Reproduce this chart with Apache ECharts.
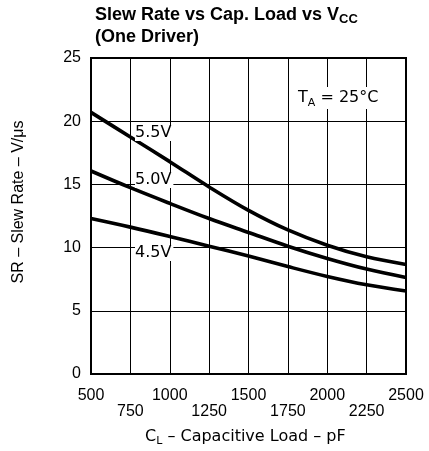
<!DOCTYPE html>
<html><head><meta charset="utf-8">
<script src="https://cdn.jsdelivr.net/npm/echarts@6/dist/echarts.min.js"></script>
<style>html,body{margin:0;padding:0;background:#fff}#c{width:429px;height:451px}</style>
</head><body><div id="c"></div>
<script>
const capLoad = [500, 750, 1000, 1250, 1500, 1750, 2000, 2250, 2500];
const sr55 = [20.7, 18.75, 16.8, 14.8, 12.95, 11.4, 10.19, 9.27, 8.66];
const sr50 = [16.06, 14.74, 13.5, 12.3, 11.2, 10.11, 9.14, 8.3, 7.64];
const sr45 = [12.3, 11.62, 10.88, 10.11, 9.33, 8.5, 7.72, 7.06, 6.56];
const seriesNames = ['5.5V', '5.0V', '4.5V'];
const yTicks = [0, 5, 10, 15, 20, 25];

const font = 'Liberation Sans, Arial, sans-serif';
const wide = 'DejaVu Sans, sans-serif';
const pair = (arr) => capLoad.map((x, i) => [x, arr[i]]);
const chart = echarts.init(document.getElementById('c'));
const lineStyle = {color: '#000', width: 3.6};
chart.setOption({
  animation: false,
  backgroundColor: '#fff',
  grid: {left: 91, right: 23, top: 58, bottom: 77, show: true, borderColor: '#000', borderWidth: 2},
  xAxis: {
    type: 'value', min: 500, max: 2500, interval: 250,
    axisLine: {show: true, lineStyle: {color: '#000', width: 2}},
    axisTick: {show: false},
    splitLine: {show: true, lineStyle: {color: '#000', width: 1}},
    axisLabel: {
      color: '#000', fontFamily: font, fontSize: 16, margin: 14, lineHeight: 16,
      showMinLabel: true, showMaxLabel: true,
      formatter: (v) => { const i = capLoad.indexOf(v); return i % 2 === 1 ? '\n' + v : v + '\n'; }
    }
  },
  yAxis: {
    type: 'value', min: yTicks[0], max: yTicks[yTicks.length - 1], interval: 5,
    axisLine: {show: true, lineStyle: {color: '#000', width: 2}},
    axisTick: {show: false},
    splitLine: {show: true, lineStyle: {color: '#000', width: 1}},
    axisLabel: {color: '#000', fontFamily: font, fontSize: 16, margin: 10}
  },
  series: [
    {name: seriesNames[0], type: 'line', data: pair(sr55), smooth: 0.35, symbol: 'none', lineStyle},
    {name: seriesNames[1], type: 'line', data: pair(sr50), smooth: 0.35, symbol: 'none', lineStyle},
    {name: seriesNames[2], type: 'line', data: pair(sr45), smooth: 0.35, symbol: 'none', lineStyle}
  ],
  graphic: [
    {type: 'text', left: 95, top: 6, style: {
      text: '{b|Slew Rate vs Cap. Load vs V}{s|CC}\n{b|(One Driver)}',
      rich: {
        b: {fontFamily: font, fontWeight: 'bold', fontSize: 18, fill: '#000', lineHeight: 22},
        s: {fontFamily: font, fontWeight: 'bold', fontSize: 13, fill: '#000', verticalAlign: 'bottom', padding: [7, 0, 0, 0], lineHeight: 22}
      }}},
    {type: 'text', left: 135, top: 125, z: 10, style: {text: seriesNames[0], fontFamily: wide, fontSize: 16, fill: '#000', backgroundColor: '#fff', padding: [0, 2, 0, 0]}},
    {type: 'text', left: 135, top: 172, z: 10, style: {text: seriesNames[1], fontFamily: wide, fontSize: 16, fill: '#000', backgroundColor: '#fff', padding: [0, 2, 0, 0]}},
    {type: 'text', left: 135, top: 245, z: 10, style: {text: seriesNames[2], fontFamily: wide, fontSize: 16, fill: '#000', backgroundColor: '#fff', padding: [0, 2, 0, 0]}},
    {type: 'text', left: 296, top: 87, z: 10, style: {
      text: '{n|T}{s|A}{n| = 25°C}', backgroundColor: '#fff', padding: [0, 2, 0, 2],
      rich: {
        n: {fontFamily: wide, fontSize: 16, fill: '#000', lineHeight: 22},
        s: {fontFamily: wide, fontSize: 11, fill: '#000', verticalAlign: 'bottom', lineHeight: 22, padding: [8, 0, 0, 0]}
      }}},
    {type: 'text', left: 145, top: 428, style: {
      text: '{n|C}{s|L}{n| – Capacitive Load – pF}',
      rich: {
        n: {fontFamily: wide, fontSize: 16, fill: '#000', lineHeight: 20},
        s: {fontFamily: wide, fontSize: 11, fill: '#000', verticalAlign: 'bottom', lineHeight: 20, padding: [8, 0, 0, 0]}
      }}},
    {type: 'text', x: 19, y: 202, rotation: Math.PI / 2, style: {
      text: 'SR – Slew Rate – V/μs', fontFamily: font, fontSize: 16, fill: '#000',
      align: 'center', verticalAlign: 'middle'}}
  ]
});
</script></body></html>
